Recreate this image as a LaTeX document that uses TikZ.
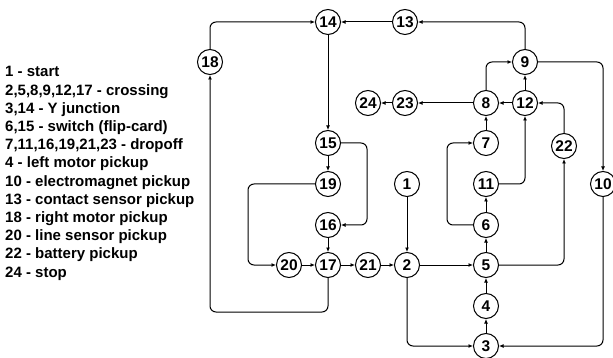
\documentclass[tikz,border=0pt]{standalone}
\usepackage{fontspec}
\setmainfont{Liberation Sans}
\usetikzlibrary{arrows.meta}
\tikzset{
  st/.style={circle,draw,line width=1pt,minimum size=25pt,inner sep=0pt,font=\bfseries\fontsize{15.5}{18}\selectfont},
  arr/.style={line width=1pt,rounded corners=6pt,-{Latex[length=4.5pt,width=4pt]}},
  leg/.style={anchor=base west,inner sep=0pt,font=\bfseries\fontsize{15}{18}\selectfont}
}
\begin{document}
\begin{tikzpicture}[x=1pt,y=-1pt]
\useasboundingbox (0,0) rectangle (613,358);
% legend
\node[leg] (L1) at (5,77) {1 - start};
\node[leg] (L2) at (5,95.2) {2,5,8,9,12,17 - crossing};
\node[leg] (L3) at (5,113.4) {3,14 - Y junction};
\node[leg] (L4) at (5,131.5) {6,15 - switch (flip-card)};
\node[leg] (L5) at (5,149.7) {7,11,16,19,21,23 - dropoff};
\node[leg] (L6) at (5,167.9) {4 - left motor pickup};
\node[leg] (L7) at (5,186.1) {10 - electromagnet pickup};
\node[leg] (L8) at (5,204.3) {13 - contact sensor pickup};
\node[leg] (L9) at (5,222.4) {18 - right motor pickup};
\node[leg] (L10) at (5,240.6) {20 - line sensor pickup};
\node[leg] (L11) at (5,258.8) {22 - battery pickup};
\node[leg] (L12) at (5,277) {24 - stop};
% states
\node[st] (n14) at (328,22) {14};
\node[st] (n13) at (405,22) {13};
\node[st] (n18) at (210,62) {18};
\node[st] (n9) at (525,62) {9};
\node[st] (n24) at (368,103) {24};
\node[st] (n23) at (405,103) {23};
\node[st] (n8) at (486,103) {8};
\node[st] (n12) at (525,103) {12};
\node[st] (n15) at (328,143) {15};
\node[st] (n7) at (486,143) {7};
\node[st] (n22) at (564,146) {22};
\node[st] (n19) at (328,184) {19};
\node[st] (n1) at (407,184) {1};
\node[st] (n11) at (486,184) {11};
\node[st] (n10) at (603,184) {10};
\node[st] (n16) at (328,225) {16};
\node[st] (n6) at (486,225) {6};
\node[st] (n20) at (289,265) {20};
\node[st] (n17) at (328,265) {17};
\node[st] (n21) at (368,265) {21};
\node[st] (n2) at (407,265) {2};
\node[st] (n5) at (486,265) {5};
\node[st] (n4) at (486,306) {4};
\node[st] (n3) at (486,346) {3};
% connectors
\draw[arr] (n13) -- (n14);
\draw[arr] (n18) |- (n14);
\draw[arr] (n14) -- (n15);
\draw[arr] (n15) -- (n19);
\draw[arr] (n15) -- ++(39,0) |- (n16);
\draw[arr] (n19) -- ++(-80,0) |- (n20);
\draw[arr] (n16) -- (n17);
\draw[arr] (n20) -- (n17);
\draw[arr] (n17) -- (n21);
\draw[arr] (n21) -- (n2);
\draw[arr] (n1) -- (n2);
\draw[arr] (n17) -- ++(0,47) -| (n18);
\draw[arr] (n2) -- (n5);
\draw[arr] (n2) |- (n3);
\draw[arr] (n3) -- (n4);
\draw[arr] (n4) -- (n5);
\draw[arr] (n5) -- (n6);
\draw[arr] (n6) -- (n11);
\draw[arr] (n11) -| (n12);
\draw[arr] (n6) -- ++(-39,0) |- (n7);
\draw[arr] (n7) -- (n8);
\draw[arr] (n12) -- (n8);
\draw[arr] (n12) -- (n9);
\draw[arr] (n8) |- (n9);
\draw[arr] (n8) -- (n23);
\draw[arr] (n23) -- (n24);
\draw[arr] (n22) |- (n12);
\draw[arr] (n5) -| (n22);
\draw[arr] (n9) |- (n13);
\draw[arr] (n9) -| (n10);
\draw[arr] (n10) |- (n3);
\end{tikzpicture}
\end{document}
